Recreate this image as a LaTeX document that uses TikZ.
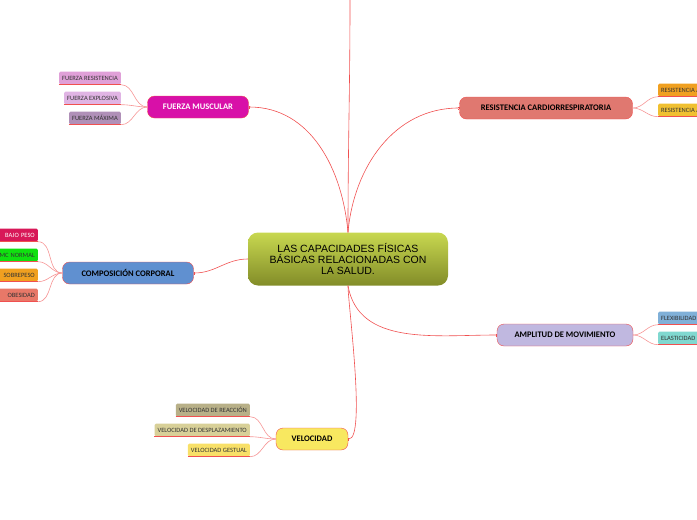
\documentclass[tikz,border=0pt]{standalone}
\usepackage{fontspec}
\setmainfont{Carlito}
\newfontfamily\arialfont{Liberation Sans}
\usetikzlibrary{positioning, arrows.meta}
\definecolor{linkred}{HTML}{F05050}
\tikzset{
  x=1pt, y=-1pt, % pixel grid, y downwards
  topic/.style={draw=linkred, rounded corners=7pt, minimum height=22pt, font=\bfseries\fontsize{8.5}{9}\selectfont, inner xsep=6pt},
  leaf/.style={rounded corners=1.5pt, minimum height=13pt, font=\fontsize{6.5}{7}\selectfont, inner xsep=3pt, text=black!80, append after command={(\tikzlastnode.south west) edge[draw=linkred, thick, -] (\tikzlastnode.south east)}},
  link/.style={draw=linkred, line width=0.6pt, {Bar[width=3pt,length=1pt]}-},
  twig/.style={draw=linkred!60, line width=0.6pt},
}
\begin{document}
\begin{tikzpicture}
\useasboundingbox (0,0) rectangle (697,520);
% centre
\node[rounded corners=10pt, shading=axis, top color={rgb,255:red,200;green,216;blue,80}, bottom color={rgb,255:red,130;green,140;blue,40}, minimum width=200pt, minimum height=53pt, align=center, font=\arialfont\fontsize{10.5}{11}\selectfont] (core) at (348,259) {LAS CAPACIDADES FÍSICAS\\BÁSICAS RELACIONADAS CON\\LA SALUD.};
\coordinate (top) at (350,0);
\draw[link, -] (core.north) to[out=90, in=-90] (top);

% main topics
\node[topic, fill={rgb,255:red,216;green,16;blue,168}, text=white, minimum width=101pt] (fuerza) at (198,107) {FUERZA MUSCULAR};
\node[topic, fill={rgb,255:red,224;green,120;blue,112}, minimum width=173pt] (cardio) at (546,108) {RESISTENCIA CARDIORRESPIRATORIA};
\node[topic, fill={rgb,255:red,96;green,144;blue,208}, minimum width=131pt] (compo) at (128,273) {COMPOSICIÓN CORPORAL};
\node[topic, fill={rgb,255:red,192;green,184;blue,224}, minimum width=136pt] (amplitud) at (565,335) {AMPLITUD DE MOVIMIENTO};
\node[topic, fill={rgb,255:red,248;green,232;blue,96}, minimum width=72pt] (veloc) at (312,439) {VELOCIDAD};

\draw[link] (fuerza.east) to[out=0, in=95] (core.north);
\draw[link] (cardio.west) to[out=180, in=85] (core.north);
\draw[link] (compo.east) to[out=0, in=180] (core.west);
\draw[link] (amplitud.west) to[out=180, in=-80] (core.south);
\draw[link] (veloc.east) to[out=0, in=-90, looseness=0.3] (core.south);

% leaves
\node[leaf, fill={rgb,255:red,224;green,160;blue,216}, anchor=east] (fres) at (121,78) {FUERZA RESISTENCIA};
\node[leaf, fill={rgb,255:red,224;green,180;blue,228}, anchor=east] (fexp) at (121,98) {FUERZA EXPLOSIVA};
\node[leaf, fill={rgb,255:red,176;green,144;blue,184}, anchor=east] (fmax) at (121,118) {FUERZA MÁXIMA};
\foreach \l in {fres, fexp, fmax}
  \draw[twig] (fuerza.west) to[out=180, in=0] (\l.south east);

\node[leaf, fill={rgb,255:red,216;green,24;blue,88}, text=white, anchor=east, minimum width=50pt, align=right, text width=44pt] (bajo) at (38,235) {BAJO PESO};
\node[leaf, fill={rgb,255:red,16;green,224;blue,16}, anchor=east, align=right, text width=44pt] (imc) at (38,255) {IMC NORMAL};
\node[leaf, fill={rgb,255:red,240;green,160;blue,32}, anchor=east, align=right, text width=44pt] (sobre) at (38,275) {SOBREPESO};
\node[leaf, fill={rgb,255:red,232;green,120;blue,104}, anchor=east, align=right, text width=44pt] (obes) at (38,295) {OBESIDAD};
\foreach \l in {bajo, imc, sobre, obes}
  \draw[twig] (compo.west) to[out=180, in=0] (\l.south east);

\node[leaf, fill={rgb,255:red,240;green,160;blue,32}, anchor=west] (aero) at (658,90) {RESISTENCIA AERÓBICA};
\node[leaf, fill={rgb,255:red,240;green,192;blue,48}, anchor=west] (anae) at (658,110) {RESISTENCIA ANAERÓBICA};
\foreach \l in {aero, anae}
  \draw[twig] (cardio.east) to[out=0, in=180] (\l.south west);

\node[leaf, fill={rgb,255:red,128;green,176;blue,216}, anchor=west] (flex) at (658,318) {FLEXIBILIDAD};
\node[leaf, fill={rgb,255:red,128;green,216;blue,208}, anchor=west] (elas) at (658,338) {ELASTICIDAD};
\foreach \l in {flex, elas}
  \draw[twig] (amplitud.east) to[out=0, in=180] (\l.south west);

\node[leaf, fill={rgb,255:red,184;green,176;blue,136}, anchor=east] (vreac) at (250,410) {VELOCIDAD DE REACCIÓN};
\node[leaf, fill={rgb,255:red,216;green,208;blue,152}, anchor=east] (vdesp) at (250,430) {VELOCIDAD DE DESPLAZAMIENTO};
\node[leaf, fill={rgb,255:red,248;green,224;blue,104}, anchor=east] (vgest) at (250,450) {VELOCIDAD GESTUAL};
\foreach \l in {vreac, vdesp, vgest}
  \draw[twig] (veloc.west) to[out=180, in=0] (\l.south east);
\end{tikzpicture}
\end{document}
